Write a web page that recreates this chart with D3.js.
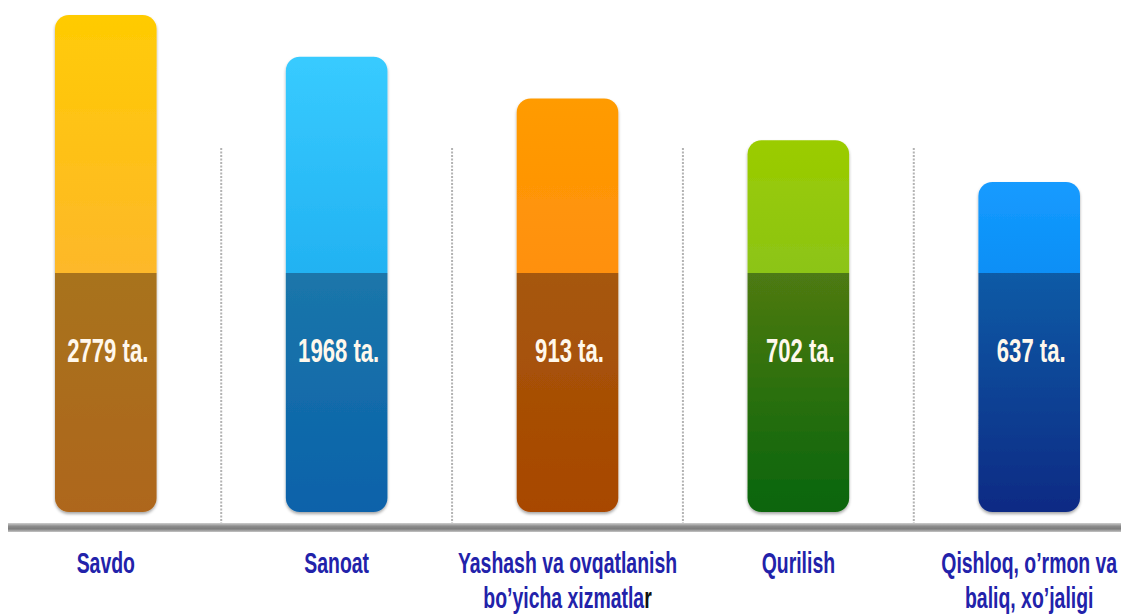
<!DOCTYPE html>
<html><head><meta charset="utf-8">
<script src="https://cdn.jsdelivr.net/npm/d3@7"></script>
<style>html,body{margin:0;padding:0;background:#fff;overflow:hidden}</style>
</head><body>
<svg id="chart" width="1121" height="614"></svg>
<script>
// ---- data ----
const categories = ["Savdo", "Sanoat", "Yashash va ovqatlanish bo’yicha xizmatlar", "Qurilish", "Qishloq, o’rmon va baliq, xo’jaligi"];
const categoryLines = [["Savdo"], ["Sanoat"], ["Yashash va ovqatlanish", "bo’yicha xizmatlar"], ["Qurilish"], ["Qishloq, o’rmon va", "baliq, xo’jaligi"]];
const values = [2779, 1968, 913, 702, 637];
const valueSuffix = " ta.";
const topColors = [["#FFCB03", "#FDB82A"], ["#38CBFF", "#22B2F2"], ["#FF9B00", "#FF900C"], ["#9BCC00", "#8CC416"], ["#169BFF", "#0A8FF6"]];
const bottomColors = [["#A8731F", "#AE661A"], ["#1B76AA", "#0A62AA"], ["#A6580C", "#A84700"], ["#4E7A12", "#086507"], ["#0E5BA6", "#0A2A84"]];

const W = 1121, H = 614;
const svg = d3.select("#chart");
const defs = svg.append("defs");
const FONT = "'Liberation Sans', Arial, sans-serif";
const SX = 0.67; // horizontal compression of the original picture

// layout
const baseY = 512, splitY = 273;
const x = d3.scaleBand().domain(categories).range([55, 1080]).paddingInner(0.56).paddingOuter(0);
// bar heights follow the rank of the value (decorative, non-proportional chart)
const order = values.map((v, i) => i).sort((a, b) => values[b] - values[a]);
const rank = new Array(values.length);
order.forEach((idx, r) => rank[idx] = r);
const yTop = d3.scaleLinear().domain([0, values.length - 1]).range([15, 182]);

// shadow filter
const f = defs.append("filter").attr("id", "sh").attr("x", "-10%").attr("y", "-5%").attr("width", "120%").attr("height", "115%");
f.append("feDropShadow").attr("dx", 0).attr("dy", 2).attr("stdDeviation", 1.6).attr("flood-color", "#000").attr("flood-opacity", 0.35);

// baseline gradient
const bg = defs.append("linearGradient").attr("id", "baseG").attr("x1", 0).attr("y1", 0).attr("x2", 0).attr("y2", 1);
[["0%", "#cfcfcf"], ["35%", "#8c8c8c"], ["65%", "#7c7c7c"], ["100%", "#c4c4c4"]].forEach(s => bg.append("stop").attr("offset", s[0]).attr("stop-color", s[1]));

// dividers between bands
const step = x.step();
const dividers = categories.slice(1).map(c => x(c) - (step - x.bandwidth()) / 2);
svg.selectAll("line.div").data(dividers).join("line")
  .attr("class", "div")
  .attr("x1", d => d).attr("x2", d => d)
  .attr("y1", 148).attr("y2", 524)
  .attr("stroke", "#b3b3b3").attr("stroke-width", 2).attr("stroke-dasharray", "2,1.5");

// bars
categories.forEach((c, i) => {
  const top = yTop(rank[i]);
  const g = defs.append("linearGradient").attr("id", "g" + i)
    .attr("gradientUnits", "userSpaceOnUse").attr("x1", 0).attr("x2", 0).attr("y1", top).attr("y2", baseY);
  const off = (splitY - top) / (baseY - top);
  g.append("stop").attr("offset", 0).attr("stop-color", topColors[i][0]);
  g.append("stop").attr("offset", off).attr("stop-color", topColors[i][1]);
  g.append("stop").attr("offset", off).attr("stop-color", bottomColors[i][0]);
  g.append("stop").attr("offset", 1).attr("stop-color", bottomColors[i][1]);
});

svg.selectAll("rect.bar").data(values).join("rect")
  .attr("class", "bar")
  .attr("x", (d, i) => x(categories[i]))
  .attr("width", x.bandwidth())
  .attr("y", (d, i) => yTop(rank[i]))
  .attr("height", (d, i) => baseY - yTop(rank[i]))
  .attr("rx", 14).attr("ry", 14)
  .attr("fill", (d, i) => `url(#g${i})`)
  .attr("filter", "url(#sh)");

// value labels
svg.selectAll("g.val").data(values).join("g")
  .attr("class", "val")
  .attr("transform", (d, i) => `translate(${x(categories[i]) + x.bandwidth() / 2 + 2},362) scale(${SX},1)`)
  .append("text")
  .attr("text-anchor", "middle")
  .attr("font-family", FONT).attr("font-weight", "bold").attr("font-size", 33)
  .attr("fill", "#fff8ec")
  .text(d => d + valueSuffix);

// baseline
svg.append("rect").attr("x", 8).attr("y", 523).attr("width", W - 8).attr("height", 9).attr("fill", "url(#baseG)");

// category labels
categoryLines.forEach((lines, i) => {
  const cx = x(categories[i]) + x.bandwidth() / 2;
  lines.forEach((ln, j) => {
    const t = svg.append("g")
      .attr("transform", `translate(${cx},${573 + j * 35}) scale(${SX},1)`)
      .append("text")
      .attr("text-anchor", "middle")
      .attr("font-family", FONT).attr("font-weight", "bold").attr("font-size", 29)
      .attr("fill", "#2222aa");
    if (ln.endsWith("xizmatlar")) {
      t.append("tspan").text(ln.slice(0, -1));
      t.append("tspan").attr("fill", "#111").text(ln.slice(-1));
    } else {
      t.text(ln);
    }
  });
});
</script>
</body></html>
